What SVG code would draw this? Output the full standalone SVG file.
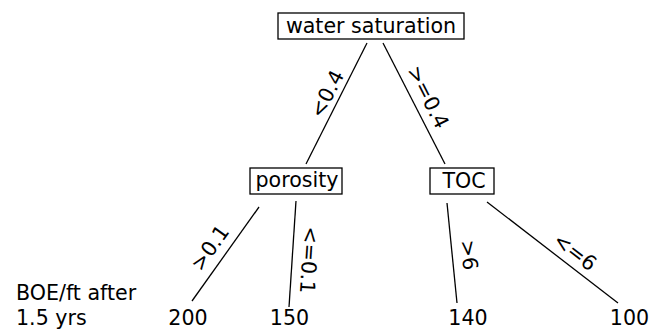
<svg xmlns="http://www.w3.org/2000/svg" width="661" height="329" viewBox="0 0 661 329">
<style>
text{font-family:"DejaVu Sans",sans-serif;font-size:20.6px;fill:#000}
.box{fill:#fff;stroke:#000;stroke-width:1.3}
.e line{stroke:#000;stroke-width:1.3}
.m{text-anchor:middle}
</style>
<rect width="661" height="329" fill="#fff"/>
<g id="connectors" class="e">
<line x1="367" y1="43" x2="306" y2="164"/>
<line x1="383" y1="43" x2="445" y2="164"/>
<line x1="259" y1="207" x2="192" y2="301"/>
<line x1="296" y1="201" x2="289" y2="307"/>
<line x1="447" y1="203" x2="457" y2="303"/>
<line x1="487" y1="202" x2="618" y2="303"/>
<text class="m" transform="translate(327,94) rotate(-63)" y="7">&lt;0.4</text>
<text class="m" transform="translate(428,97) rotate(63)" y="7">&gt;=0.4</text>
<text class="m" transform="translate(210,248) rotate(-54.5)" y="7">&gt;0.1</text>
<text class="m" transform="translate(309,260) rotate(93.8)" y="7">&lt;=0.1</text>
<text class="m" transform="translate(469,255) rotate(84.3)" y="7">&gt;6</text>
<text class="m" transform="translate(575,252) rotate(37.6)" y="7">&lt;=6</text>
</g>
<g id="node-water">
<rect class="box" x="278" y="13" width="186" height="26"/>
<text class="m" x="371" y="33">water saturation</text>
</g>
<g id="node-porosity">
<rect class="box" x="250" y="168" width="92" height="26"/>
<text class="m" x="297" y="187">porosity</text>
</g>
<g id="node-toc">
<rect class="box" x="430" y="168" width="64" height="26"/>
<text class="m" x="464" y="188">TOC</text>
</g>
<g id="leaf-200"><text class="m" x="188" y="325">200</text></g>
<g id="leaf-150"><text class="m" x="289.5" y="325">150</text></g>
<g id="leaf-140"><text class="m" x="468" y="325">140</text></g>
<g id="leaf-100"><text class="m" x="629.5" y="325">100</text></g>
<g id="legend">
<text x="16" y="299.5">BOE/ft after</text>
<text x="16" y="324.5">1.5 yrs</text>
</g>
</svg>
